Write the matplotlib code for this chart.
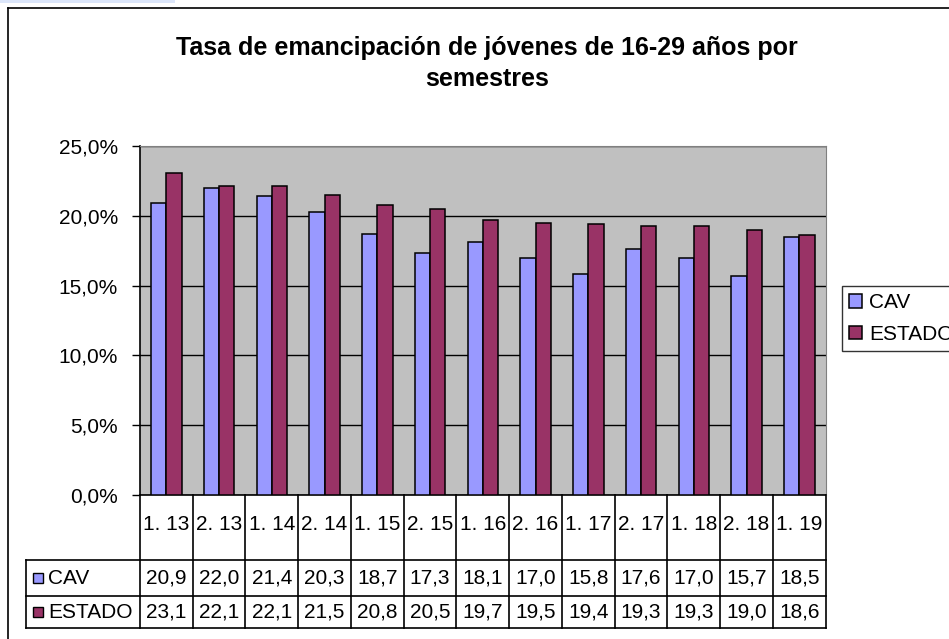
import numpy as np
import matplotlib.pyplot as plt
from matplotlib.patches import Rectangle
from matplotlib.lines import Line2D
import matplotlib.transforms as mtransforms

plt.rcParams['font.family'] = ['Liberation Sans', 'DejaVu Sans']

periods = ['1. 13', '2. 13', '1. 14', '2. 14', '1. 15', '2. 15', '1. 16',
           '2. 16', '1. 17', '2. 17', '1. 18', '2. 18', '1. 19']
cav = [20.9, 22.0, 21.4, 20.3, 18.7, 17.3, 18.1, 17.0, 15.8, 17.6, 17.0, 15.7, 18.5]
estado = [23.1, 22.1, 22.1, 21.5, 20.8, 20.5, 19.7, 19.5, 19.4, 19.3, 19.3, 19.0, 18.6]
yticks = [0, 5, 10, 15, 20, 25]

W, H = 949, 639
c_cav = '#9999FF'
c_est = '#993366'
fs = 15

fig = plt.figure(figsize=(W / 100, H / 100), dpi=100)

def px(x0, y0, x1, y1):
    # pixel box (top-left origin) -> figure fraction rect
    return [x0 / W, 1 - y1 / H, (x1 - x0) / W, (y1 - y0) / H]

# outer chart frame (clipped on right / bottom) and selection strip
fig.add_artist(Line2D([8 / W, 8 / W], [0, 1 - 8 / H], color='black', lw=1.2))
fig.add_artist(Line2D([8 / W, 1], [1 - 8 / H, 1 - 8 / H], color='black', lw=1.2))
fig.add_artist(Rectangle((0, 1 - 3 / H), 175 / W, 3 / H, color='#DCE6FA', lw=0))

fig.text(487 / W, 1 - 48 / H, 'Tasa de emancipación de jóvenes de 16-29 años por',
         ha='center', va='center', fontsize=18, fontweight='bold')
fig.text(487 / W, 1 - 79 / H, 'semestres',
         ha='center', va='center', fontsize=18, fontweight='bold')

ax = fig.add_axes(px(140, 146, 825.7, 495))
ax.set_facecolor('#C0C0C0')
x = np.arange(len(periods))
bw = 0.29
ax.bar(x - bw / 2, cav, bw, color=c_cav, edgecolor='black', lw=1.1, label='CAV', zorder=3)
ax.bar(x + bw / 2, estado, bw, color=c_est, edgecolor='black', lw=1.1, label='ESTADO', zorder=3)
ax.set_xlim(-0.5, len(periods) - 0.5)
ax.set_ylim(0, 25)
ax.set_yticks(yticks)
ax.set_yticklabels([f'{v:.1f}%'.replace('.', ',') for v in yticks], fontsize=fs)
ax.tick_params(axis='y', length=6, width=1, pad=10)
ax.set_xticks([])
ax.yaxis.grid(True, color='black', lw=1, zorder=1)
for s in ('top', 'right'):
    ax.spines[s].set_color('#808080')
ax.spines['left'].set_linewidth(1.2)
ax.spines['bottom'].set_linewidth(1.2)

# data table under the axes: x in data units, y in pixels
ax_h = 495 - 146
def ty(ypix):
    return (495 - ypix) / ax_h
tr = mtransforms.blended_transform_factory(ax.transData, ax.transAxes)
xl = -0.5 - (140 - 25.7) / ((825.7 - 140) / len(periods))
xr = len(periods) - 0.5
kw = dict(transform=tr, clip_on=False, color='black', lw=1.2)
for yp in (560, 596, 628):
    ax.plot([xl, xr], [ty(yp)] * 2, **kw)
ax.plot([xl, xl], [ty(560), ty(628)], **kw)
for i in range(len(periods) + 1):
    ax.plot([i - 0.5] * 2, [ty(495), ty(628)], **kw)
for i, p in enumerate(periods):
    ax.text(i, ty(525), p, transform=tr, ha='center', va='center', fontsize=fs)
    ax.text(i, ty(578), f'{cav[i]:.1f}'.replace('.', ','), transform=tr,
            ha='center', va='center', fontsize=fs)
    ax.text(i, ty(612), f'{estado[i]:.1f}'.replace('.', ','), transform=tr,
            ha='center', va='center', fontsize=fs)
for yc, name, col in ((578, 'CAV', c_cav), (612, 'ESTADO', c_est)):
    fig.add_artist(Rectangle((33 / W, 1 - (yc + 5) / H), 10 / W, 10 / H,
                             facecolor=col, edgecolor='black', lw=1))
    fig.text(48 / W, 1 - yc / H, name, ha='left', va='center', fontsize=fs)

fig.legend(loc='upper left', bbox_to_anchor=(842 / W, 1 - 286 / H),
           fontsize=fs, frameon=True, fancybox=False, edgecolor='black',
           handlelength=0.6, handleheight=0.6, handletextpad=0.35,
           borderpad=0.35, labelspacing=0.6, borderaxespad=0)

fig.savefig('out.png', dpi=100)
